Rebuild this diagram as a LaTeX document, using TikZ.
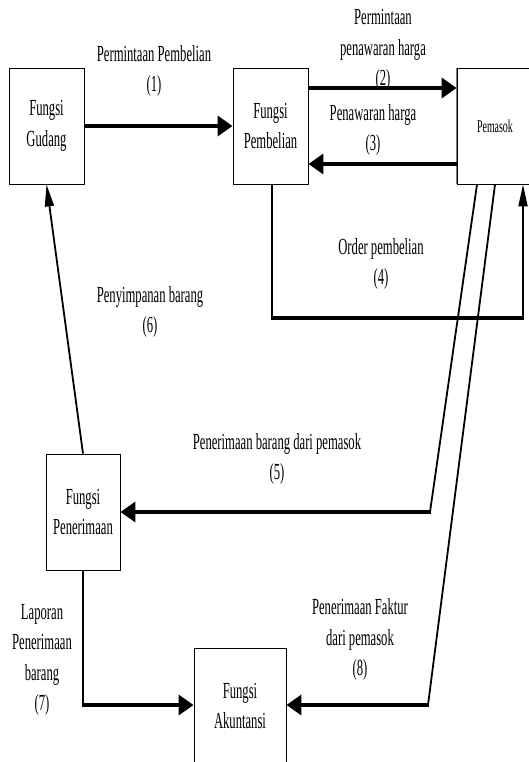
\documentclass[tikz,border=0pt]{standalone}
\usepackage{fontspec}
\setmainfont{Liberation Serif}[FakeStretch=0.55]
\usetikzlibrary{arrows.meta}

\tikzset{
  fbox/.style={draw=black, line width=0.9pt, minimum width=75pt, minimum height=116pt,
               align=center, inner sep=0pt, font=\fontsize{23}{30.5}\selectfont},
  lbl/.style={align=center, inner sep=0pt, font=\fontsize{23}{30.5}\selectfont},
  bigflow/.style={line width=4pt},
  bigarrow/.style={line width=4pt, -{Triangle[length=15pt,width=20pt]}},
  thinflow/.style={line width=1.8pt},
  thinarrow/.style={line width=1.8pt, -{Triangle[length=22pt,width=9pt]}},
}

\begin{document}
\begin{tikzpicture}[x=1pt,y=-1pt]
  \useasboundingbox (0,0) rectangle (529,762);

  % functions
  \node[fbox] (gud) at (46.5,126) {Fungsi\\Gudang};
  \node[fbox] (pbl) at (270.5,126) {Fungsi\\Pembelian};
  \node[fbox, minimum width=76pt, font=\fontsize{18}{22}\selectfont] (psk) at (495,126) {Pemasok};
  \draw[gray, line width=1pt] (psk.north west) -- (psk.south west);
  \node[fbox, minimum width=74pt] (pnr) at (83,512) {Fungsi\\Penerimaan};
  \node[fbox, minimum width=92pt] (akt) at (240,706) {Fungsi\\Akuntansi};

  % bend points
  \coordinate (c4a) at (272,318);
  \coordinate (c4b) at (523,318);
  \coordinate (c5) at (430,512);
  \coordinate (c8) at (428,705);
  \coordinate (c7) at (83,705);

  % (1) purchase request
  \draw[bigarrow] (gud.east) -- (pbl.west);
  % (2) request for quotation
  \draw[bigarrow] (pbl.east |- 0,88) -- (psk.west |- 0,88);
  % (3) quotation
  \draw[bigarrow] (psk.west |- 0,164) -- (pbl.east |- 0,164);
  % (4) purchase order
  \draw[thinflow] (pbl.south -| c4a) -- (c4a);
  \draw[bigflow] ([xshift=-0.9pt]c4a) -- ([xshift=0.9pt]c4b);
  \draw[thinarrow] (c4b) -- (psk.south -| c4b);
  % (5) goods received from supplier
  \draw[thinflow] (psk.south -| 477,0) -- (c5);
  \draw[bigarrow] ([xshift=0.9pt]c5) -- (pnr.east |- c5);
  % (6) storage of goods
  \draw[thinarrow] (pnr.north) -- (gud.south);
  % (7) receiving report
  \draw[line width=2.5pt] (pnr.south) -- ([yshift=2pt]c7);
  \draw[bigarrow] ([xshift=-1.25pt]c7) -- (akt.west |- c7);
  % (8) supplier invoice
  \draw[thinflow] (psk.south -| 495,0) -- (c8);
  \draw[bigarrow] ([xshift=0.9pt]c8) -- (akt.east |- c8);

  % flow labels
  \node[lbl] (l1) at (154,71) {Permintaan Pembelian\\(1)};
  \node[lbl] (l2) at (383,50) {Permintaan\\penawaran harga\\(2)};
  \node[lbl] (l3) at (373,130) {Penawaran harga\\(3)};
  \node[lbl] (l4) at (381,264) {Order pembelian\\(4)};
  \node[lbl] (l6) at (150,312) {Penyimpanan barang\\(6)};
  \node[lbl] (l5) at (277,459) {Penerimaan barang dari pemasok\\(5)};
  \node[lbl] (l7) at (42,660) {Laporan\\Penerimaan\\barang\\(7)};
  \node[lbl] (l8) at (360,639.5) {Penerimaan Faktur\\dari pemasok\\(8)};
\end{tikzpicture}
\end{document}
